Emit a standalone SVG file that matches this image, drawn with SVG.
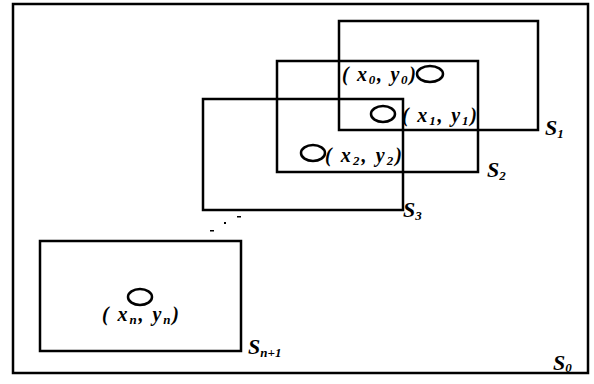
<svg xmlns="http://www.w3.org/2000/svg" width="594" height="384" viewBox="0 0 594 384">
<style>
.r{fill:none;stroke:#000;stroke-width:2.5}
.c{fill:none;stroke:#000;stroke-width:2.5}
.t{font-family:"Liberation Serif",serif;font-style:italic;font-weight:bold;font-size:20px;fill:#000}
.L{font-size:22px}
.s{font-size:13px}
</style>
<rect width="594" height="384" fill="#fff"/>
<g id="S0"><rect class="r" x="13" y="4" width="575" height="369"/><text class="t L" x="553" y="370">S<tspan class="s" dy="2">0</tspan></text></g>
<g id="S1"><rect class="r" x="339" y="21" width="199" height="109"/><text class="t L" x="545" y="135">S<tspan class="s" dy="3">1</tspan></text></g>
<g id="S2"><rect class="r" x="277" y="61" width="201" height="111"/><text class="t L" x="487" y="177">S<tspan class="s" dy="3">2</tspan></text></g>
<g id="S3"><rect class="r" x="203" y="99" width="200" height="111"/><text class="t L" x="403" y="217">S<tspan class="s" dy="3">3</tspan></text></g>
<g id="Sn1"><rect class="r" x="40" y="241" width="201" height="110"/><text class="t L" x="248" y="354">S<tspan class="s" dy="3">n+1</tspan></text></g>
<g id="p0"><ellipse class="c" cx="430" cy="74" rx="13" ry="8"/><text class="t" x="342" y="81" textLength="74">( x<tspan class="s" dy="3">0</tspan><tspan dy="-3">, y</tspan><tspan class="s" dy="3">0</tspan><tspan dy="-3">)</tspan></text></g>
<g id="p1"><ellipse class="c" cx="383" cy="114" rx="12" ry="8"/><text class="t" x="402" y="122" textLength="75">( x<tspan class="s" dy="3">1</tspan><tspan dy="-3">, y</tspan><tspan class="s" dy="3">1</tspan><tspan dy="-3">)</tspan></text></g>
<g id="p2"><ellipse class="c" cx="313" cy="153" rx="12" ry="8"/><text class="t" x="325" y="162" textLength="77">( x<tspan class="s" dy="3">2</tspan><tspan dy="-3">, y</tspan><tspan class="s" dy="3">2</tspan><tspan dy="-3">)</tspan></text></g>
<g id="pn"><ellipse class="c" cx="140" cy="297" rx="12" ry="8"/><text class="t" x="102" y="321" textLength="77">( x<tspan class="s" dy="3">n</tspan><tspan dy="-3">, y</tspan><tspan class="s" dy="3">n</tspan><tspan dy="-3">)</tspan></text></g>
<g id="dots" fill="#000"><rect x="237" y="216" width="4" height="1.5"/><rect x="224" y="222" width="2" height="2"/><rect x="210" y="230" width="4" height="1.5"/></g>
<g id="connectors"></g>
</svg>
